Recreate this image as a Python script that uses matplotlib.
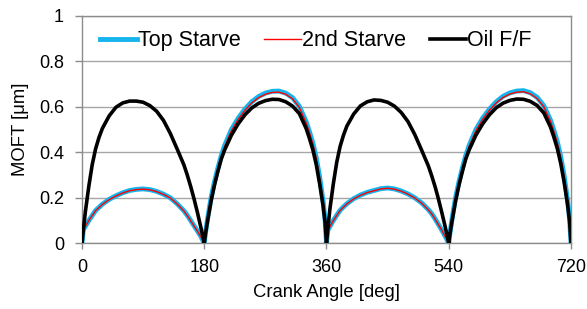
import matplotlib
matplotlib.use("Agg")
import matplotlib.pyplot as plt

plt.rcParams['font.family'] = ['Liberation Sans', 'DejaVu Sans']

# crank angle [deg]
crank = [0, 2, 5, 10, 15, 20, 25, 30, 40, 50, 60, 70, 80, 90, 100, 110, 120, 130, 140, 150, 155, 160, 165, 170, 175, 178,
         180, 182, 185, 190, 195, 200, 205, 210, 220, 230, 240, 250, 260, 270, 280, 290, 300, 310, 320, 330, 335, 340, 345, 350, 355, 358,
         360, 362, 365, 370, 375, 380, 385, 390, 400, 410, 420, 430, 440, 450, 460, 470, 480, 490, 500, 510, 515, 520, 525, 530, 535, 538,
         540, 542, 545, 550, 555, 560, 565, 570, 580, 590, 600, 610, 620, 630, 640, 650, 660, 670, 680, 690, 695, 700, 705, 710, 715, 718,
         720]

# MOFT [um]
top_starve = [0, 0.06, 0.075, 0.1, 0.122, 0.144, 0.158, 0.172, 0.193, 0.209, 0.222, 0.232, 0.237, 0.239, 0.236, 0.228, 0.216, 0.2, 0.174, 0.143, 0.123, 0.1, 0.077, 0.054, 0.03, 0.012,
              0, 0.05, 0.11, 0.2, 0.27, 0.33, 0.385, 0.43, 0.5, 0.55, 0.59, 0.622, 0.645, 0.66, 0.668, 0.669, 0.66, 0.64, 0.602, 0.535, 0.49, 0.44, 0.375, 0.29, 0.185, 0.1,
              0, 0.058, 0.074, 0.1, 0.123, 0.145, 0.16, 0.174, 0.196, 0.212, 0.224, 0.232, 0.24, 0.243, 0.239, 0.23, 0.217, 0.2, 0.178, 0.148, 0.13, 0.107, 0.082, 0.057, 0.03, 0.012,
              0, 0.05, 0.11, 0.2, 0.27, 0.33, 0.385, 0.43, 0.5, 0.55, 0.59, 0.622, 0.646, 0.661, 0.669, 0.671, 0.662, 0.642, 0.605, 0.54, 0.495, 0.445, 0.38, 0.295, 0.19, 0.105,
              0]

second_starve = [0.05, 0.058, 0.075, 0.1, 0.122, 0.143, 0.157, 0.171, 0.192, 0.208, 0.221, 0.231, 0.236, 0.238, 0.235, 0.227, 0.215, 0.199, 0.173, 0.142, 0.122, 0.099, 0.076, 0.053, 0.029, 0.012,
                 0, 0.048, 0.107, 0.196, 0.266, 0.326, 0.38, 0.425, 0.495, 0.545, 0.585, 0.617, 0.64, 0.655, 0.663, 0.664, 0.655, 0.635, 0.597, 0.53, 0.486, 0.436, 0.372, 0.287, 0.183, 0.1,
                 0.045, 0.056, 0.073, 0.099, 0.122, 0.144, 0.159, 0.173, 0.195, 0.211, 0.223, 0.231, 0.239, 0.242, 0.238, 0.229, 0.216, 0.199, 0.177, 0.147, 0.129, 0.106, 0.081, 0.056, 0.029, 0.012,
                 0, 0.048, 0.107, 0.196, 0.266, 0.326, 0.38, 0.425, 0.495, 0.545, 0.585, 0.617, 0.641, 0.656, 0.664, 0.666, 0.657, 0.637, 0.6, 0.535, 0.49, 0.44, 0.376, 0.291, 0.187, 0.103,
                 0]

oil_ff = [0, 0.06, 0.14, 0.25, 0.345, 0.415, 0.465, 0.505, 0.56, 0.598, 0.617, 0.625, 0.625, 0.62, 0.605, 0.58, 0.54, 0.483, 0.415, 0.345, 0.3, 0.25, 0.195, 0.135, 0.07, 0.03,
          0, 0.045, 0.1, 0.185, 0.255, 0.315, 0.37, 0.41, 0.475, 0.525, 0.565, 0.595, 0.615, 0.627, 0.633, 0.632, 0.622, 0.603, 0.57, 0.505, 0.46, 0.41, 0.345, 0.26, 0.165, 0.09,
          0, 0.065, 0.15, 0.26, 0.355, 0.425, 0.475, 0.515, 0.568, 0.604, 0.622, 0.63, 0.628, 0.62, 0.603, 0.575, 0.535, 0.478, 0.41, 0.34, 0.296, 0.248, 0.193, 0.133, 0.07, 0.03,
          0, 0.045, 0.1, 0.185, 0.255, 0.315, 0.37, 0.41, 0.475, 0.525, 0.565, 0.596, 0.616, 0.628, 0.634, 0.633, 0.624, 0.606, 0.573, 0.51, 0.465, 0.415, 0.35, 0.268, 0.17, 0.095,
          0]

x_ticks = [0, 180, 360, 540, 720]
y_ticks = [0, 0.2, 0.4, 0.6, 0.8, 1]
y_ticklabels = ['0', '0.2', '0.4', '0.6', '0.8', '1']

fig = plt.figure(figsize=(5.87, 3.09), dpi=100)
ax = fig.add_axes([0.1397, 0.2126, 0.833, 0.7364])

ax.plot(crank, top_starve, color='#16b4ec', lw=3.5, label='Top Starve', zorder=3)
ax.plot(crank, second_starve, color='#ff0000', lw=1.0, label='2nd Starve', zorder=4)
ax.plot(crank, oil_ff, color='black', lw=2.6, label='Oil F/F', zorder=5)

ax.set_xlim(0, 720)
ax.set_ylim(0, 1)
ax.set_xticks(x_ticks)
ax.set_yticks(y_ticks)
ax.set_yticklabels(y_ticklabels)
ax.tick_params(labelsize=13, color='#8c8c8c', width=1, direction='out')
ax.tick_params(axis='y', length=5, pad=8)
ax.tick_params(axis='x', length=4, pad=7)
ax.grid(axis='y', color='#a6a6a6', lw=1)
ax.set_axisbelow(True)
for s in ax.spines.values():
    s.set_color('#8c8c8c')
    s.set_linewidth(1)

ax.set_xlabel('Crank Angle [deg]', fontsize=13.3, labelpad=6)
ax.set_ylabel('MOFT [μm]', fontsize=13.3, labelpad=7)

ax.legend(loc='center left', bbox_to_anchor=(0.037, 0.89), ncol=3, frameon=False,
          fontsize=15.5, handlelength=1.7, handletextpad=0.05, columnspacing=1.1,
          borderaxespad=0, borderpad=0)

fig.savefig('out.png', dpi=100)
